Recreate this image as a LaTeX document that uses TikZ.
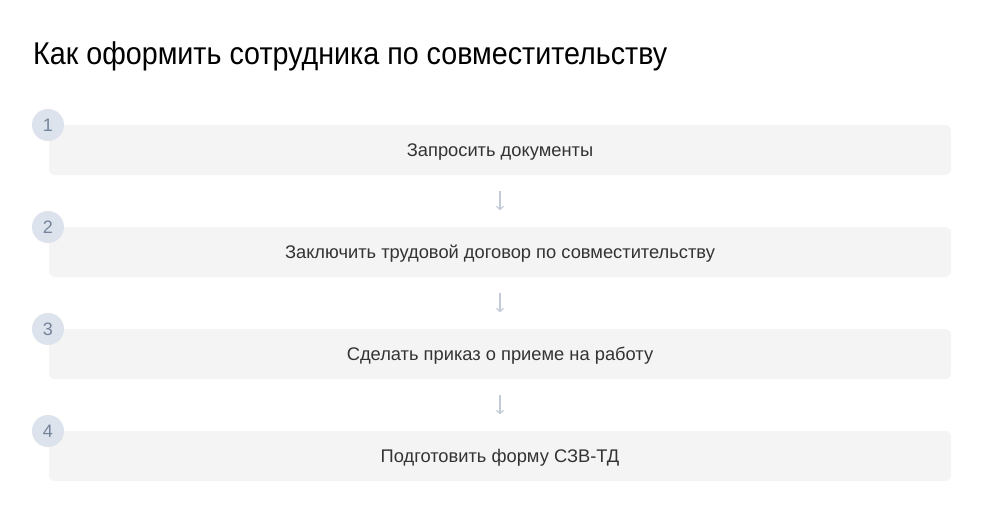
\documentclass[tikz,border=0pt]{standalone}
\usepackage{fontspec}
\setmainfont{Liberation Sans}
\newfontfamily\titlefont[FakeStretch=0.91]{Liberation Sans}
\usetikzlibrary{arrows.meta}
\definecolor{boxfill}{HTML}{F4F4F4}
\definecolor{circfill}{HTML}{DDE3EC}
\definecolor{numcol}{HTML}{74839A}
\definecolor{txtcol}{HTML}{333333}
\definecolor{arrcol}{HTML}{C3CBD6}
\tikzset{
  stepbox/.style={fill=boxfill, rounded corners=6pt, minimum width=902pt, minimum height=50pt, inner sep=0pt, text height=13pt, text depth=0pt, text=txtcol, font=\fontsize{18.3}{21}\selectfont},
  numcirc/.style={circle, fill=circfill, minimum size=32pt, inner sep=0pt, text height=13pt, text depth=0pt, text=numcol, font=\fontsize{18}{21}\selectfont},
  flow/.style={draw=arrcol, line width=1.2pt, -{Straight Barb[length=3pt,width=7pt]}},
}
\begin{document}
\begin{tikzpicture}[x=1pt,y=-1pt]
\useasboundingbox (0,0) rectangle (1000,530);
\fill[white] (0,0) rectangle (1000,530);
\node[anchor=base west, inner sep=0pt, font=\titlefont\fontsize{31.5}{36}\selectfont, text=black] (title) at (33,64) {Как оформить сотрудника по совместительству};
\node[stepbox] (s1) at (500,150) {Запросить документы};
\node[stepbox] (s2) at (500,252) {Заключить трудовой договор по совместительству};
\node[stepbox] (s3) at (500,354) {Сделать приказ о приеме на работу};
\node[stepbox] (s4) at (500,456) {Подготовить форму СЗВ-ТД};
\node[numcirc] (n1) at (48,125) {1};
\node[numcirc] (n2) at (48,227) {2};
\node[numcirc] (n3) at (48,329) {3};
\node[numcirc] (n4) at (48,431) {4};
\draw[flow] ([yshift=-16pt]s1.south) -- ([yshift=-35pt]s1.south);
\draw[flow] ([yshift=-16pt]s2.south) -- ([yshift=-35pt]s2.south);
\draw[flow] ([yshift=-16pt]s3.south) -- ([yshift=-35pt]s3.south);
\end{tikzpicture}
\end{document}
